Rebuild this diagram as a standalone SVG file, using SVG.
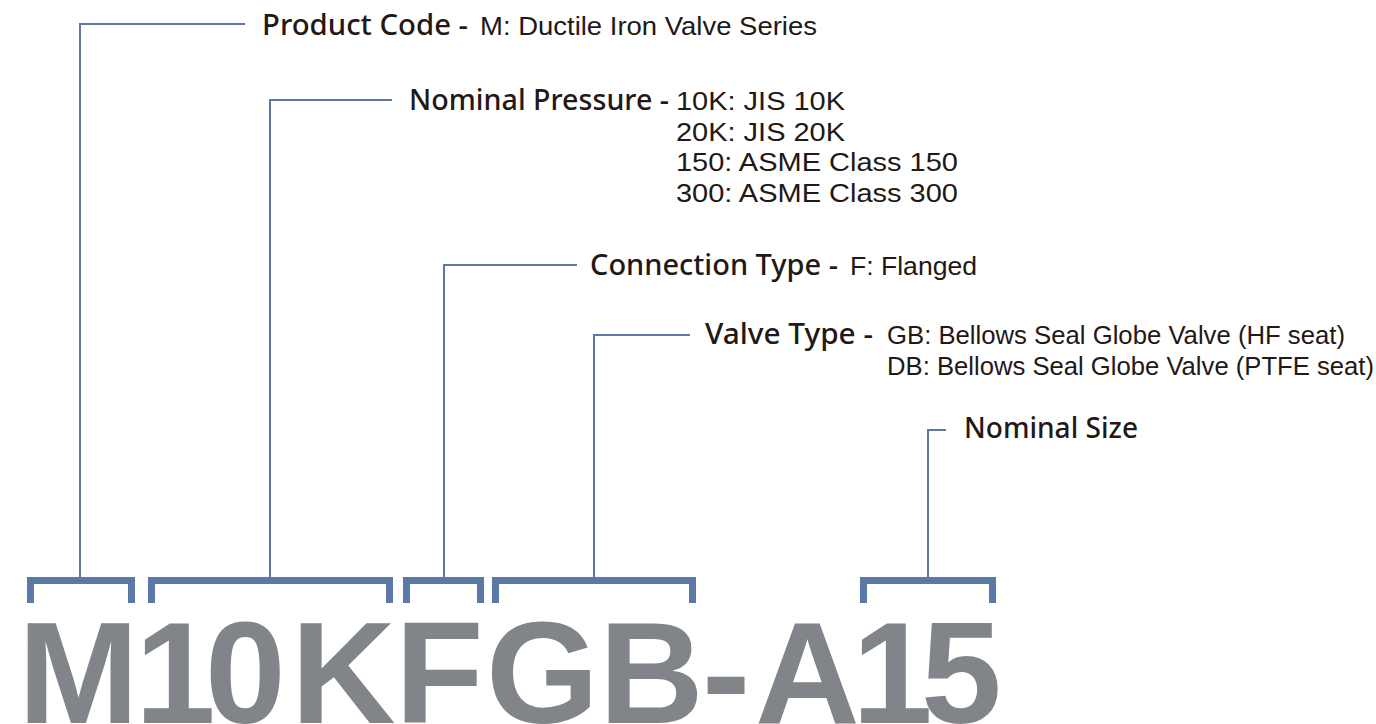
<svg xmlns="http://www.w3.org/2000/svg" width="1376" height="724" viewBox="0 0 1376 724">
<style>
.h{font-family:"Noto Sans","Liberation Sans",sans-serif;font-size:28px;font-weight:500;fill:#231815}
.d{font-family:"Liberation Sans","Noto Sans",sans-serif;font-size:25.5px;font-weight:400;fill:#231815}
.code{font-family:"Liberation Sans",Arial,sans-serif;font-size:145px;font-weight:700;fill:#818589}
.ln{fill:none;stroke:#5b78a6;stroke-width:2}
.br{fill:none;stroke:#5b78a6;stroke-width:7;stroke-linejoin:miter}
</style>
<rect width="1376" height="724" fill="#ffffff"/>
<g id="connectors">
<path class="ln" d="M80,578 V24 H245"/>
<path class="ln" d="M270,578 V100 H392"/>
<path class="ln" d="M444,578 V265 H577"/>
<path class="ln" d="M594,578 V335 H690"/>
<path class="ln" d="M928,578 V430 H946"/>
<path class="br" d="M30.5,603 V580.5 H131.5 V603"/>
<path class="br" d="M151.5,603 V580.5 H389.5 V603"/>
<path class="br" d="M406.5,603 V580.5 H480.5 V603"/>
<path class="br" d="M495.5,603 V580.5 H692.5 V603"/>
<path class="br" d="M863.5,603 V580.5 H992.5 V603"/>
</g>
<g id="product-code">
<text class="h" x="262" y="35" textLength="206" lengthAdjust="spacingAndGlyphs">Product Code -</text>
<text class="d" x="480" y="35" textLength="337" lengthAdjust="spacingAndGlyphs">M: Ductile Iron Valve Series</text>
</g>
<g id="nominal-pressure">
<text class="h" x="409" y="110" textLength="260" lengthAdjust="spacingAndGlyphs">Nominal Pressure -</text>
<text class="d" x="676" y="110" textLength="169" lengthAdjust="spacingAndGlyphs">10K: JIS 10K</text>
<text class="d" x="676" y="140.7" textLength="169" lengthAdjust="spacingAndGlyphs">20K: JIS 20K</text>
<text class="d" x="676" y="171.4" textLength="282" lengthAdjust="spacingAndGlyphs">150: ASME Class 150</text>
<text class="d" x="676" y="202" textLength="282" lengthAdjust="spacingAndGlyphs">300: ASME Class 300</text>
</g>
<g id="connection-type">
<text class="h" x="590" y="275" textLength="248" lengthAdjust="spacingAndGlyphs">Connection Type -</text>
<text class="d" x="850" y="275" textLength="127" lengthAdjust="spacingAndGlyphs">F: Flanged</text>
</g>
<g id="valve-type">
<text class="h" x="705" y="344" textLength="168" lengthAdjust="spacingAndGlyphs">Valve Type -</text>
<text class="d" x="887" y="344" textLength="458" lengthAdjust="spacingAndGlyphs">GB: Bellows Seal Globe Valve (HF seat)</text>
<text class="d" x="887" y="375" textLength="487" lengthAdjust="spacingAndGlyphs">DB: Bellows Seal Globe Valve (PTFE seat)</text>
</g>
<g id="nominal-size">
<text class="h" x="964" y="438" textLength="174" lengthAdjust="spacingAndGlyphs">Nominal Size</text>
</g>
<g id="model-code">
<text class="code" x="18 135 205 291 395 486 599 702 755 852 921" y="723">M10KFGB-A15</text>
</g>
</svg>
